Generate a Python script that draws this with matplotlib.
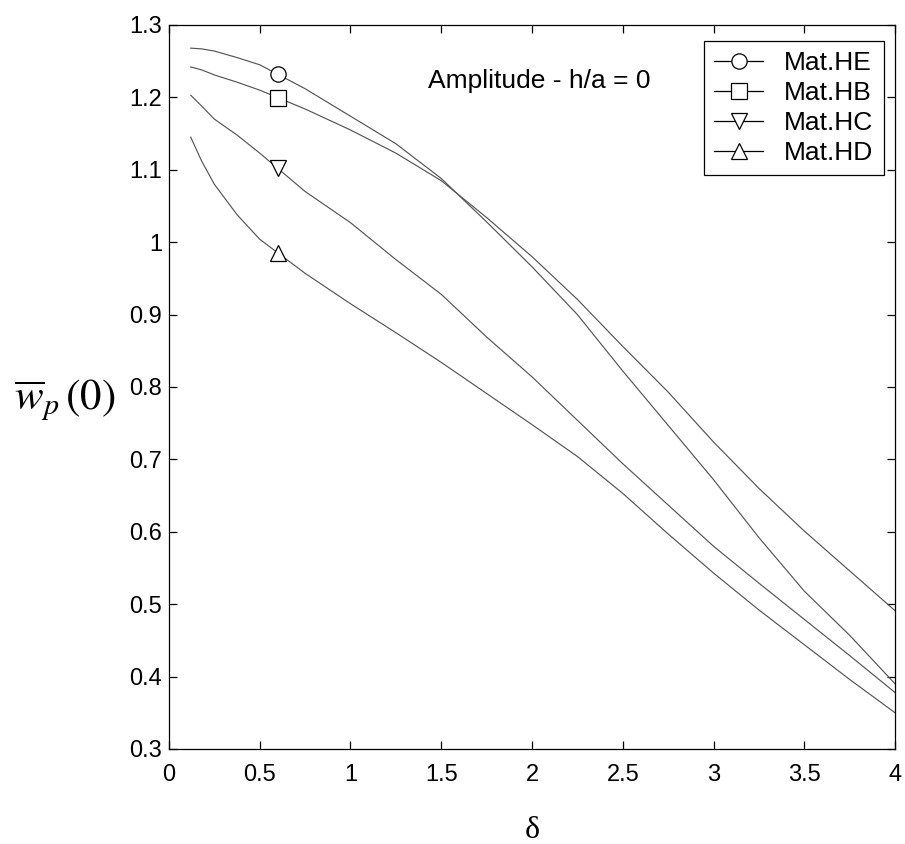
import matplotlib
matplotlib.use("Agg")
import matplotlib.pyplot as plt
from matplotlib.lines import Line2D
from matplotlib.ticker import FormatStrFormatter
import numpy as np

# deflection amplitude at the centre vs. delta, four materials, h/a = 0
delta = [0.12, 0.18, 0.25, 0.375, 0.5, 0.75, 1.0, 1.25, 1.5, 1.75, 2.0, 2.25, 2.5, 2.75,
         3.0, 3.25, 3.5, 3.75, 4.0]

w_he = [1.268, 1.267, 1.264, 1.255, 1.245, 1.212, 1.174, 1.136, 1.088, 1.028, 0.966, 0.900,
        0.822, 0.747, 0.672, 0.592, 0.518, 0.457, 0.390]
w_hb = [1.242, 1.238, 1.231, 1.221, 1.210, 1.184, 1.155, 1.123, 1.085, 1.034, 0.980, 0.921,
        0.856, 0.793, 0.724, 0.660, 0.601, 0.546, 0.491]
w_hc = [1.203, 1.188, 1.170, 1.148, 1.123, 1.070, 1.027, 0.976, 0.928, 0.869, 0.814, 0.754,
        0.694, 0.637, 0.580, 0.529, 0.479, 0.429, 0.378]
w_hd = [1.145, 1.112, 1.080, 1.038, 1.004, 0.957, 0.915, 0.875, 0.834, 0.791, 0.748, 0.704,
        0.653, 0.597, 0.543, 0.492, 0.444, 0.396, 0.350]

labels = ['Mat.HE', 'Mat.HB', 'Mat.HC', 'Mat.HD']
markers = ['o', 's', 'v', '^']
marker_delta = 0.6

line_color = '#555555'

fig = plt.figure(figsize=(9.05, 8.44), dpi=100)
ax = fig.add_axes([0.1867, 0.1126, 0.8023, 0.8578])

handles = []
for series, label, mk in zip([w_he, w_hb, w_hc, w_hd], labels, markers):
    ax.plot(delta, series, color=line_color, linewidth=0.85)
    # one open marker per curve to identify it
    ax.plot([marker_delta], [np.interp(marker_delta, delta, series)], linestyle='none',
            marker=mk, markersize=11, markerfacecolor='white', markeredgecolor='black',
            markeredgewidth=0.9)
    handles.append(Line2D([], [], color='black', linewidth=0.9, marker=mk, markersize=11,
                          markerfacecolor='white', markeredgecolor='black',
                          markeredgewidth=0.9, label=label))

ax.set_xlim(0, 4)
ax.set_ylim(0.3, 1.3)
ax.set_xticks(np.arange(0, 4.01, 0.5))
ax.set_yticks(np.arange(0.3, 1.301, 0.1))
ax.xaxis.set_major_formatter(FormatStrFormatter('%g'))
ax.yaxis.set_major_formatter(FormatStrFormatter('%g'))
ax.tick_params(direction='in', top=True, right=True, length=6, width=0.9, labelsize=17)
ax.tick_params(axis='x', pad=11)
ax.tick_params(axis='y', pad=5)
for lbl in ax.get_xticklabels() + ax.get_yticklabels():
    lbl.set_family('Liberation Sans')
for sp in ax.spines.values():
    sp.set_linewidth(0.9)

ax.text(1.427, 1.222, 'Amplitude - h/a = 0', fontsize=19, family='Liberation Sans',
        va='center', ha='left')

leg = ax.legend(handles=handles, loc='upper right', bbox_to_anchor=(0.985, 0.978),
                borderaxespad=0, fancybox=False, framealpha=1, edgecolor='black',
                prop={'family': 'Liberation Sans', 'size': 19}, handlelength=1.85,
                handletextpad=0.8, labelspacing=0.22, borderpad=0.4)
leg.get_frame().set_linewidth(0.9)

plt.rcParams['mathtext.fontset'] = 'stix'
fig.text(0.015, 1 - 400 / 844, r'$\overline{w}_p\,(0)$', fontsize=31, ha='left', va='center')
fig.text(532 / 905, 1 - 830 / 844, 'δ', fontsize=23, family='Liberation Serif',
         ha='center', va='center')

fig.savefig('out.png', dpi=100)
